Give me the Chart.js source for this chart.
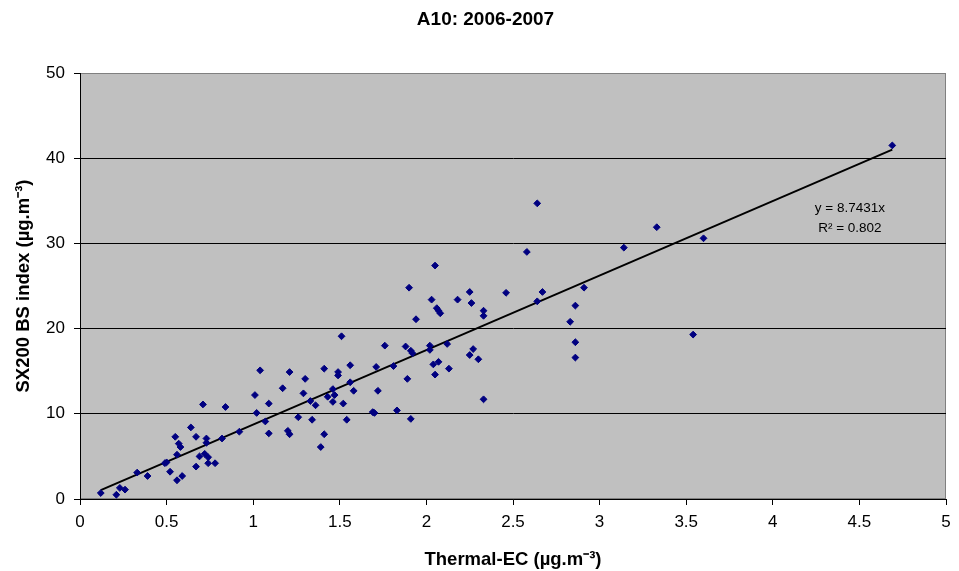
<!DOCTYPE html>
<html>
<head>
<meta charset="utf-8">
<title>A10: 2006-2007</title>
<script src="https://cdn.jsdelivr.net/npm/chart.js@4.4.1/dist/chart.umd.min.js"></script>
<style>
  html, body { margin: 0; padding: 0; background: #fff; }
  #contenedor { width: 959px; height: 571px; }
</style>
</head>
<body>
<div id="contenedor"><canvas id="myChart"></canvas></div>
<script>
// Datos: Thermal-EC (x) contra SX200 BS index (y)
const thermalEC = [
  0.12, 0.21, 0.23, 0.26, 0.33, 0.39, 0.49, 0.50, 0.52, 0.55,
  0.57, 0.58, 0.56, 0.56, 0.59, 0.64, 0.67, 0.73, 0.73, 0.69,
  0.72, 0.74, 0.67, 0.74, 0.78, 0.71, 0.84, 0.82, 0.92, 1.01,
  1.02, 1.04, 1.94, 1.51, 1.76, 1.88, 1.91, 1.92, 1.21, 1.41,
  1.49, 1.49, 1.56, 1.71, 1.81, 1.30, 1.89, 1.17, 1.29, 1.46,
  1.56, 1.58, 1.72, 1.43, 1.47, 1.33, 1.36, 1.46, 1.52, 1.09,
  1.07, 1.26, 1.34, 1.54, 1.69, 1.70, 1.83, 1.91, 1.09, 1.20,
  1.21, 1.41, 1.39, 2.58, 2.05, 1.90, 2.25, 2.46, 2.67, 2.91,
  2.03, 2.18, 2.26, 2.64, 2.06, 2.07, 2.08, 2.33, 2.33, 2.86,
  2.83, 2.86, 2.86, 2.02, 2.02, 2.12, 2.27, 2.25, 2.30, 2.04,
  2.07, 2.13, 2.05, 2.33, 2.64, 3.33, 3.14, 4.69, 3.60, 3.54
];
const sx200BS = [
  0.7, 0.5, 1.3, 1.1, 3.1, 2.7, 4.2, 4.3, 3.2, 7.3,
  6.5, 6.1, 5.2, 2.2, 2.7, 8.4, 7.3, 7.1, 6.6, 5.0,
  5.3, 4.9, 3.8, 4.2, 4.2, 11.1, 10.8, 7.1, 7.9, 12.2,
  10.1, 15.1, 21.1, 19.1, 18.0, 17.9, 17.4, 17.1, 14.9, 15.3,
  14.9, 14.5, 15.7, 15.5, 15.6, 14.1, 14.1, 13.0, 12.4, 12.9,
  13.7, 12.7, 12.7, 12.0, 12.2, 11.5, 11.0, 11.4, 11.2, 11.2,
  9.1, 9.6, 9.3, 9.3, 10.2, 10.1, 10.4, 9.4, 7.7, 8.0,
  7.6, 7.6, 6.1, 29.0, 27.4, 24.8, 24.3, 24.2, 24.3, 24.8,
  23.4, 23.4, 23.0, 23.2, 22.4, 22.1, 21.8, 22.1, 21.5, 22.7,
  20.8, 18.4, 16.6, 18.0, 17.5, 18.2, 17.6, 16.9, 16.4, 15.8,
  16.1, 15.3, 14.6, 11.7, 34.7, 31.9, 29.5, 41.5, 30.6, 19.3
];

// Etiquetas de los ejes
const etiquetasX = ['0', '0.5', '1', '1.5', '2', '2.5', '3', '3.5', '4', '4.5', '5'];
const etiquetasY = ['0', '10', '20', '30', '40', '50'];

// Linea de tendencia (y = 8.7431x) y su R2
const pendiente = 8.7431;
const r2 = '0.802';

const fuente = '"Liberation Sans", Arial, sans-serif';

/*Función para armar los puntos del scatter*/
function armarPuntos() {
  return thermalEC.map(function (x, i) {
    return { x: x, y: sx200BS[i] };
  });
}

/*Función para armar la linea de tendencia entre el x minimo y el maximo*/
function armarTendencia() {
  var xMin = Math.min.apply(null, thermalEC);
  var xMax = Math.max.apply(null, thermalEC);
  return [
    { x: xMin, y: pendiente * xMin },
    { x: xMax, y: pendiente * xMax }
  ];
}

// Plugin para el fondo gris del area de trazado y el texto de la ecuacion
const fondoArea = {
  id: 'fondoArea',
  beforeDraw: function (chart) {
    const a = chart.chartArea;
    const ctx = chart.ctx;
    ctx.save();
    ctx.fillStyle = '#C0C0C0';
    ctx.fillRect(a.left, a.top, a.right - a.left, a.bottom - a.top);
    ctx.strokeStyle = '#808080';
    ctx.lineWidth = 1;
    ctx.strokeRect(a.left + 0.5, a.top + 0.5, a.right - a.left - 1, a.bottom - a.top - 1);
    ctx.restore();
  },
  afterDatasetsDraw: function (chart) {
    const ctx = chart.ctx;
    const sx = chart.scales.x;
    const sy = chart.scales.y;
    const px = sx.getPixelForValue(4.445);
    ctx.save();
    ctx.fillStyle = '#000';
    ctx.font = '13.5px ' + fuente;
    ctx.textAlign = 'center';
    ctx.textBaseline = 'middle';
    ctx.fillText('y = ' + pendiente + 'x', px, sy.getPixelForValue(34.1));
    ctx.fillText('R\u00B2 = ' + r2, px, sy.getPixelForValue(31.8));
    ctx.restore();
  }
};

/*Función para mostrar el gráfico*/
function mostrarGrafico() {
  var ctx = document.getElementById('myChart').getContext('2d');

  new Chart(ctx, {
    type: 'scatter',
    data: {
      datasets: [
        {
          label: 'SX200',
          data: armarPuntos(),
          pointStyle: 'rectRot',
          pointRadius: 3.4,
          pointHoverRadius: 3.4,
          backgroundColor: '#000080',
          borderColor: '#000080',
          borderWidth: 1
        },
        {
          type: 'line',
          label: 'Tendencia',
          data: armarTendencia(),
          borderColor: '#000',
          borderWidth: 2,
          pointRadius: 0,
          fill: false
        }
      ]
    },
    options: {
      responsive: true,
      maintainAspectRatio: false,
      animation: false,
      events: [],
      layout: { padding: { left: 12, right: 0, top: 0, bottom: 0 } },
      plugins: {
        legend: { display: false },
        tooltip: { enabled: false },
        title: {
          display: true,
          text: 'A10: 2006-2007',
          color: '#000',
          font: { family: fuente, size: 19, weight: 'bold' },
          padding: { top: 8, bottom: 42.2 }
        }
      },
      scales: {
        x: {
          type: 'linear',
          min: 0,
          max: 5,
          afterFit: function (scale) { scale.height = 72; },
          ticks: {
            stepSize: 0.5,
            color: '#000',
            padding: 7,
            maxRotation: 0,
            font: { family: fuente, size: 17 },
            callback: function (v, i) { return etiquetasX[i]; }
          },
          grid: {
            drawOnChartArea: false,
            drawTicks: true,
            tickLength: 6,
            tickColor: '#000'
          },
          border: { display: true, color: '#000', width: 1 },
          title: {
            display: true,
            text: 'Thermal-EC (\u00B5g.m\u207B\u00B3)',
            color: '#000',
            font: { family: fuente, size: 18.5, weight: 'bold' },
            padding: { top: 0, bottom: 0 }
          }
        },
        y: {
          min: 0,
          max: 50,
          afterFit: function (scale) { scale.width = 68; },
          ticks: {
            stepSize: 10,
            color: '#000',
            padding: 9,
            font: { family: fuente, size: 17 },
            callback: function (v, i) { return etiquetasY[i]; }
          },
          grid: {
            color: function (c) { return c.tick && c.tick.value === 50 ? '#808080' : '#000'; },
            tickLength: 6,
            tickColor: '#000'
          },
          border: { display: true, color: '#000', width: 1 },
          title: {
            display: true,
            text: 'SX200 BS index (\u00B5g.m\u207B\u00B3)',
            color: '#000',
            font: { family: fuente, size: 18.5, weight: 'bold' },
            padding: { top: 1, bottom: 0 }
          }
        },
        // eje vacio a la derecha solo para dejar el margen
        yDer: {
          position: 'right',
          afterFit: function (scale) { scale.width = 13; },
          ticks: { display: false },
          grid: { display: false },
          border: { display: false }
        }
      }
    },
    plugins: [fondoArea]
  });
}

// Llama a la función cuando la pagina esta lista
mostrarGrafico();
</script>
</body>
</html>
